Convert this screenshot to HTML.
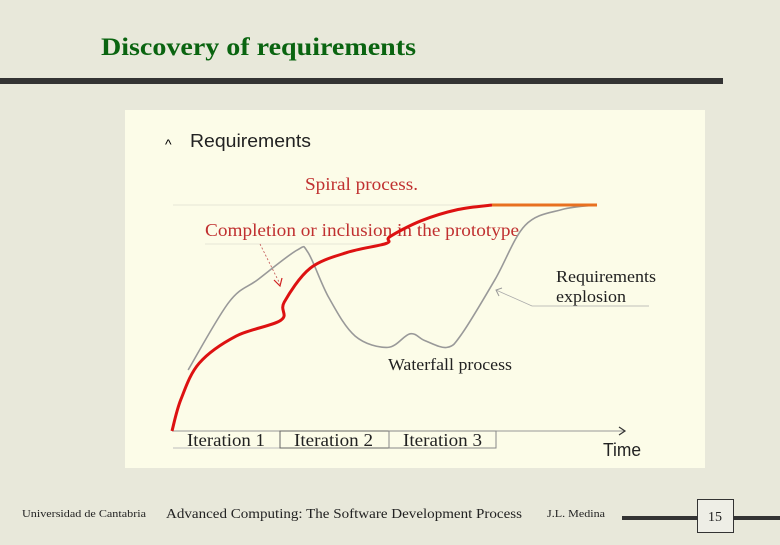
<!DOCTYPE html>
<html><head><meta charset="utf-8"><style>
body{margin:0;width:780px;height:540px;overflow:hidden;background:#e8e8da;font-family:"Liberation Serif",serif;}
</style></head><body>
<svg width="780" height="540" viewBox="0 0 780 540" xmlns="http://www.w3.org/2000/svg">
<rect x="0" y="0" width="780" height="540" fill="#e8e8da"/>
<text x="101" y="55" font-family="Liberation Serif" font-weight="bold" font-size="25" fill="#0a6410" textLength="315" lengthAdjust="spacingAndGlyphs">Discovery of requirements</text>
<rect x="0" y="78" width="723" height="6" fill="#333"/>
<rect x="125" y="110" width="580" height="358" fill="#fcfce8"/>
<g id="chart">
<text x="165" y="149" font-family="Liberation Sans" font-size="14">^</text>
<text x="190" y="147" font-family="Liberation Sans" font-size="18" fill="#222" textLength="121" lengthAdjust="spacingAndGlyphs">Requirements</text>
<line x1="173" y1="205" x2="560" y2="205" stroke="#e6e6d6" stroke-width="1"/>
<line x1="205" y1="244" x2="385" y2="244" stroke="#e6e6d6" stroke-width="1"/>
<text x="305" y="190" font-size="18" fill="#c03030" textLength="113" lengthAdjust="spacingAndGlyphs">Spiral process.</text>
<text x="205" y="236" font-size="18" fill="#c03030" textLength="314" lengthAdjust="spacingAndGlyphs">Completion or inclusion in the prototype</text>
<line x1="260" y1="244" x2="280" y2="284" stroke="#c05050" stroke-width="0.8" stroke-dasharray="2,2"/>
<polyline points="274,280 280,286 282,278" fill="none" stroke="#d02020" stroke-width="1.2"/>
<line x1="172" y1="431" x2="625" y2="431" stroke="#999" stroke-width="1"/>
<polyline points="619,427 625,431 619,435" fill="none" stroke="#333" stroke-width="1.2"/>
<text x="603" y="456" font-family="Liberation Sans" font-size="18" fill="#222" textLength="38" lengthAdjust="spacingAndGlyphs">Time</text>
<line x1="173" y1="448" x2="280" y2="448" stroke="#bbb"/>
<rect x="280" y="431" width="109" height="17" fill="none" stroke="#666"/>
<rect x="389" y="431" width="107" height="17" fill="none" stroke="#888"/>
<text x="187" y="446" font-size="18" fill="#222" textLength="78" lengthAdjust="spacingAndGlyphs">Iteration 1</text>
<text x="294" y="446" font-size="18" fill="#222" textLength="79" lengthAdjust="spacingAndGlyphs">Iteration 2</text>
<text x="403" y="446" font-size="18" fill="#222" textLength="79" lengthAdjust="spacingAndGlyphs">Iteration 3</text>
<text x="556" y="282" font-size="17" fill="#222" textLength="100" lengthAdjust="spacingAndGlyphs">Requirements</text>
<text x="556" y="302" font-size="17" fill="#222" textLength="70" lengthAdjust="spacingAndGlyphs">explosion</text>
<polyline points="649,306 532,306 496,290" fill="none" stroke="#aaa" stroke-width="0.8"/>
<polyline points="502,288 496,290 499,296" fill="none" stroke="#999" stroke-width="1"/>
<text x="388" y="370" font-size="17" fill="#222" textLength="124" lengthAdjust="spacingAndGlyphs">Waterfall process</text>
</g>
<line x1="622" y1="518" x2="697" y2="518" stroke="#333" stroke-width="4"/>
<line x1="733" y1="518" x2="780" y2="518" stroke="#333" stroke-width="4"/>
<rect x="697.5" y="499.5" width="36" height="33" fill="#eeeee6" stroke="#333"/>
<text x="715" y="521" text-anchor="middle" font-size="14" fill="#222">15</text>
<text x="22" y="517" font-size="11" fill="#222" textLength="124" lengthAdjust="spacingAndGlyphs">Universidad de Cantabria</text>
<text x="166" y="518" font-size="14" fill="#222" textLength="356" lengthAdjust="spacingAndGlyphs">Advanced Computing: The Software Development Process</text>
<text x="547" y="517" font-size="11" fill="#222" textLength="58" lengthAdjust="spacingAndGlyphs">J.L. Medina</text>
</svg>
<script>
// time (0..100) and requirement level (0..100) readings
const spiralT=[0,2.1,6.4,15.1,25.6,26.4,32.5,41.2,50.4,51.3,58.6,67.3,75.3];
const spiralR=[0,14,30,42,49,57,72,79,83,86,93,98,100];
const spiralFlatT=[75.3,100];
const spiralFlatR=[100,100];
const waterfallT=[3.8,13.4,20.2,29.4,32,36.9,43.1,50.8,56,59.5,64.7,68.2,76,83.1,91.8,100];
const waterfallR=[27,57,67,80,79,59,42,37,43,40,37,43,67,91,98,100];
const X0=172,X1=597,Y0=431,Y1=205;
function sx(t){return X0+(X1-X0)*t/100;}
function sy(r){return Y0-(Y0-Y1)*r/100;}
function pts(ts,rs){return ts.map((t,i)=>sx(t).toFixed(1)+','+sy(rs[i]).toFixed(1));}
function smooth(ts,rs){
  const p=ts.map((t,i)=>[sx(t),sy(rs[i])]);
  let d='M'+p[0][0]+','+p[0][1];
  for(let i=0;i<p.length-1;i++){
    const a=p[i-1]||p[i],b=p[i],c=p[i+1],e=p[i+2]||c;
    d+=' C'+(b[0]+(c[0]-a[0])/6)+','+(b[1]+(c[1]-a[1])/6)+' '+(c[0]-(e[0]-b[0])/6)+','+(c[1]-(e[1]-b[1])/6)+' '+c[0]+','+c[1];
  }
  return d;
}
const ns='http://www.w3.org/2000/svg';
const g=document.getElementById('chart');
const w=document.createElementNS(ns,'path');
w.setAttribute('d',smooth(waterfallT,waterfallR));
w.setAttribute('fill','none');w.setAttribute('stroke','#999');w.setAttribute('stroke-width','1.6');


g.appendChild(w);
const s=document.createElementNS(ns,'path');
s.setAttribute('d',smooth(spiralT,spiralR));
s.setAttribute('fill','none');s.setAttribute('stroke','#dd1111');s.setAttribute('stroke-width','3');


g.appendChild(s);
const o=document.createElementNS(ns,'polyline');
o.setAttribute('points',pts(spiralFlatT,spiralFlatR).join(' '));
o.setAttribute('fill','none');o.setAttribute('stroke','#e87020');o.setAttribute('stroke-width','3');


g.appendChild(o);
</script>
</body></html>
